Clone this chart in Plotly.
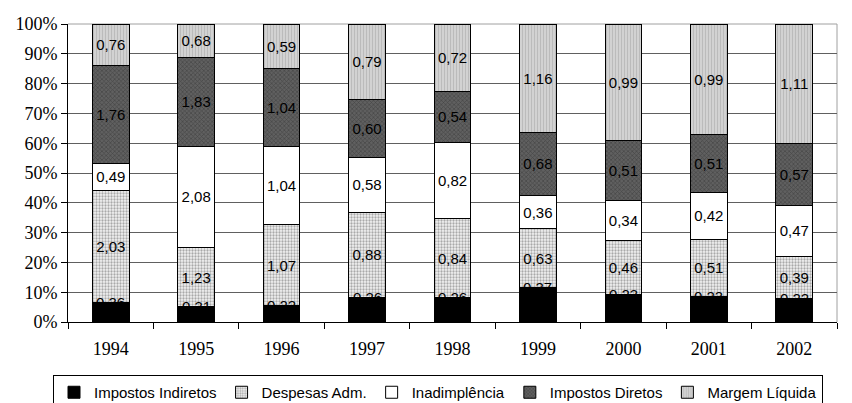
import plotly.graph_objects as go

years = ["1994", "1995", "1996", "1997", "1998", "1999", "2000", "2001", "2002"]
impostos_indiretos = [0.36, 0.31, 0.22, 0.26, 0.26, 0.37, 0.23, 0.23, 0.22]
despesas_adm = [2.03, 1.23, 1.07, 0.88, 0.84, 0.63, 0.46, 0.51, 0.39]
inadimplencia = [0.49, 2.08, 1.04, 0.58, 0.82, 0.36, 0.34, 0.42, 0.47]
impostos_diretos = [1.76, 1.83, 1.04, 0.60, 0.54, 0.68, 0.51, 0.51, 0.57]
margem_liquida = [0.76, 0.68, 0.59, 0.79, 0.72, 1.16, 0.99, 0.99, 1.11]
y_ticks = list(range(0, 101, 10))


def fmt(v):
    return f"{v:.2f}".replace(".", ",")


label_font = dict(family="Liberation Sans, Arial, sans-serif", size=15, color="black")

series = [
    ("Impostos Indiretos", impostos_indiretos, dict(color="black")),
    ("Despesas Adm.", despesas_adm, dict(color="white", pattern=dict(shape=".", fgcolor="#606060", bgcolor="#f2f2f2", size=3, solidity=0.45))),
    ("Inadimplência", inadimplencia, dict(color="white")),
    ("Impostos Diretos", impostos_diretos, dict(color="#505050", pattern=dict(shape="x", fgcolor="#2a2a2a", bgcolor="#606060", size=3, solidity=0.4))),
    ("Margem Líquida", margem_liquida, dict(color="#c8c8c8", pattern=dict(shape="|", fgcolor="#a4a4a4", bgcolor="#d2d2d2", size=3, solidity=0.35))),
]

fig = go.Figure()
for name, vals, mk in series:
    mk = dict(mk)
    mk["line"] = dict(color="black", width=1)
    show_text = name != "Impostos Indiretos"
    fig.add_trace(go.Bar(
        x=years, y=vals, name=name, marker=mk,
        text=[fmt(v) for v in vals] if show_text else None,
        textposition="inside" if show_text else "none",
        insidetextanchor="middle",
        textfont=label_font,
        constraintext="none",
        textangle=0,
    ))

# labels of the thin black segment, drawn on its top edge (as in the reference)
totals = [sum(t) for t in zip(impostos_indiretos, despesas_adm, inadimplencia, impostos_diretos, margem_liquida)]
for i, (v, tot) in enumerate(zip(impostos_indiretos, totals)):
    fig.add_annotation(x=i, y=100 * v / tot, xref="x", yref="y", text=fmt(v),
                       showarrow=False, font=label_font, yanchor="middle")

fig.update_layout(
    barmode="stack", barnorm="percent", bargap=0.57,
    width=852, height=403,
    margin=dict(l=68, r=15, t=24, b=81, autoexpand=False),
    paper_bgcolor="white", plot_bgcolor="white",
    showlegend=True,
    legend=dict(orientation="h", x=53 / 852, xref="container", xanchor="left",
                y=(403 - 375) / 403, yref="container", yanchor="top",
                bordercolor="black", borderwidth=1,
                font=dict(family="Liberation Sans, Arial, sans-serif", size=15, color="black"),
                traceorder="normal", itemwidth=30),
)
fig.update_xaxes(
    type="category", showline=True, linecolor="black", linewidth=1,
    ticks="outside", tickson="boundaries", ticklen=6, tickcolor="black",
    tickfont=dict(family="Liberation Serif, Times New Roman, serif", size=18, color="black"),
    ticklabelstandoff=10, showgrid=False,
)
fig.update_yaxes(
    range=[0, 100], tickvals=y_ticks, ticktext=[f"{t}%" for t in y_ticks],
    showline=True, linecolor="black", linewidth=1,
    ticks="outside", ticklen=6, tickcolor="black",
    tickfont=dict(family="Liberation Serif, Times New Roman, serif", size=18, color="black"),
    showgrid=True, gridcolor="#606060", gridwidth=1, zeroline=False,
)
fig.add_shape(type="line", xref="paper", yref="paper", x0=0, x1=1, y0=1, y1=1, line=dict(color="#a0a0a0", width=1), layer="below")
fig.add_shape(type="line", xref="paper", yref="paper", x0=1, x1=1, y0=0, y1=1, line=dict(color="#a0a0a0", width=1), layer="below")

fig.write_html("out.html", config={"displayModeBar": False},
               post_script="document.body.style.margin='0';")
